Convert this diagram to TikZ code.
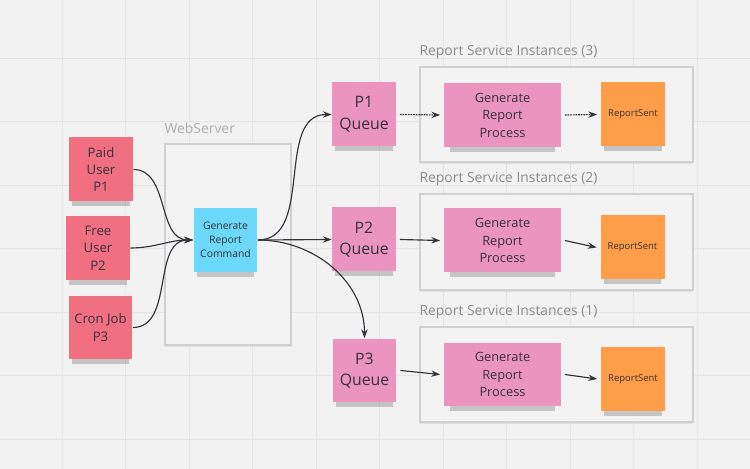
\documentclass[tikz,border=0pt]{standalone}
\usepackage{fontspec}
\setmainfont{Open Sans}
\usepackage{tikz}
\usetikzlibrary{positioning, arrows.meta, shadows}
\definecolor{BoardBg}{RGB}{242,242,242}
\definecolor{BoardGrid}{RGB}{229,229,229}
\definecolor{NoteRed}{RGB}{240,111,128}
\definecolor{NotePink}{RGB}{234,148,191}
\definecolor{NoteCyan}{RGB}{108,216,250}
\definecolor{NoteOrange}{RGB}{255,157,72}
\definecolor{FrameLine}{RGB}{208,208,208}
\definecolor{FrameFill}{RGB}{243,243,243}
\definecolor{InkDark}{RGB}{55,50,58}
\definecolor{LabelGray}{RGB}{140,140,140}

\begin{document}
\begin{tikzpicture}[x=0.02cm, y=0.02cm,
          note/.style={rectangle, minimum width=1.28cm, minimum height=1.28cm,
                       inner sep=0pt, align=center, text=InkDark,
                       drop shadow={shadow xshift=0pt, shadow yshift=-5pt,
                                    shadow scale=0.9, opacity=0.4}},
          frame/.style={rectangle, draw=FrameLine, line width=0.9pt, fill=FrameFill,
                        inner sep=0pt, drop shadow={shadow xshift=0pt,
                        shadow yshift=-1.2pt, opacity=0.15}},
          flbl/.style={anchor=base west, inner sep=0pt, text=LabelGray,
                       font=\fontsize{7.9}{9}\selectfont},
          arr/.style={-{Stealth[length=5pt, width=3.6pt]}, draw=InkDark, line width=0.65pt},
          dotarr/.style={arr, dash pattern=on 1pt off 0.5pt}
        ]
        \useasboundingbox (0,0) rectangle (750,469);
        \fill[BoardBg] (0,0) rectangle (750,469);
        % board grid
        \foreach \i in {0,...,10} {
          \draw[BoardGrid, line width=0.5pt] (62+63.5*\i,0) -- (62+63.5*\i,469);
        }
        \foreach \i in {0,...,6} {
          \draw[BoardGrid, line width=0.5pt] (0,30+63.5*\i) -- (750,30+63.5*\i);
        }

        % frames
        \node[frame, minimum width=2.52cm, minimum height=4.02cm] (web)   at (228,224.5) {};
        \node[frame, minimum width=5.46cm, minimum height=1.9cm]  (inst3) at (556.5,354.5) {};
        \node[frame, minimum width=5.46cm, minimum height=1.92cm] (inst2) at (556.5,227) {};
        \node[frame, minimum width=5.46cm, minimum height=1.9cm]  (inst1) at (556.5,94.5) {};

        \node[flbl, text=LabelGray!70] (weblbl) at ([yshift=5.7pt]web.north west) {WebServer};
        \node[flbl] (lbl3) at ([yshift=6pt]inst3.north west) {Report Service Instances (3)};
        \node[flbl] (lbl2) at ([yshift=6pt]inst2.north west) {Report Service Instances (2)};
        \node[flbl] (lbl1) at ([yshift=6pt]inst1.north west) {Report Service Instances (1)};

        % callers
        \node[note, fill=NoteRed, font=\fontsize{7.5}{9.9}\selectfont]
              (paid) at (101,299.5) {Paid\\User\\P1};
        \node[note, fill=NoteRed, font=\fontsize{7.5}{9.9}\selectfont]
              (free) at (98,221) {Free\\User\\P2};
        \node[note, fill=NoteRed, font=\fontsize{7.5}{9.9}\selectfont]
              (cron) at (100.5,141.5) {Cron Job\\P3};

        \node[note, fill=NoteCyan, font=\fontsize{5.9}{8}\selectfont]
              (cmd) at (225.5,229) {Generate\\Report\\Command};

        % queues
        \node[note, fill=NotePink, font=\fontsize{9}{12.3}\selectfont]
              (q1) at (364,354.5) {P1\\Queue};
        \node[note, fill=NotePink, font=\fontsize{9}{12.3}\selectfont]
              (q2) at (364,229.5) {P2\\Queue};
        \node[note, fill=NotePink, font=\fontsize{9}{12.3}\selectfont]
              (q3) at (364.5,98.5) {P3\\Queue};

        % service instances
        \node[note, fill=NotePink, minimum width=2.34cm, font=\fontsize{7.3}{10}\selectfont]
              (proc3) at (502.5,354) {Generate\\Report\\Process};
        \node[note, fill=NotePink, minimum width=2.34cm, font=\fontsize{7.3}{10}\selectfont]
              (proc2) at (502.5,228.5) {Generate\\Report\\Process};
        \node[note, fill=NotePink, minimum width=2.34cm, font=\fontsize{7.3}{10}\selectfont]
              (proc1) at (502.5,94.5) {Generate\\Report\\Process};

        \node[note, fill=NoteOrange, font=\fontsize{5.4}{6.5}\selectfont]
              (sent3) at (633,354.5) {ReportSent};
        \node[note, fill=NoteOrange, font=\fontsize{5.4}{6.5}\selectfont]
              (sent2) at (632.5,221.5) {ReportSent};
        \node[note, fill=NoteOrange, font=\fontsize{5.4}{6.5}\selectfont]
              (sent1) at (633,90) {ReportSent};

        \foreach \n in {paid, free, cron} {
          \draw[arr] (\n.east) to[out=0, in=180] (cmd.west);
        }
        \draw[arr] (cmd.east) to[out=0, in=180] (q1.west);
        \draw[arr] (cmd.east) -- (q2.west);
        \draw[arr] (cmd.east) to[out=0, in=90] (q3.north);

        \draw[dotarr] ([xshift=2pt]q1.east) -- ([xshift=-2pt]proc3.west);
        \draw[dotarr] ([xshift=2pt]proc3.east) -- ([xshift=-2pt]sent3.west);
        \draw[arr] ([xshift=2pt]q2.east) -- ([xshift=-2pt]proc2.west);
        \draw[arr] ([xshift=2pt]proc2.east) -- ([xshift=-2pt]sent2.west);
        \draw[arr] ([xshift=2pt]q3.east) -- ([xshift=-2pt]proc1.west);
        \draw[arr] ([xshift=2pt]proc1.east) -- ([xshift=-2pt]sent1.west);
      \end{tikzpicture}
\end{document}
